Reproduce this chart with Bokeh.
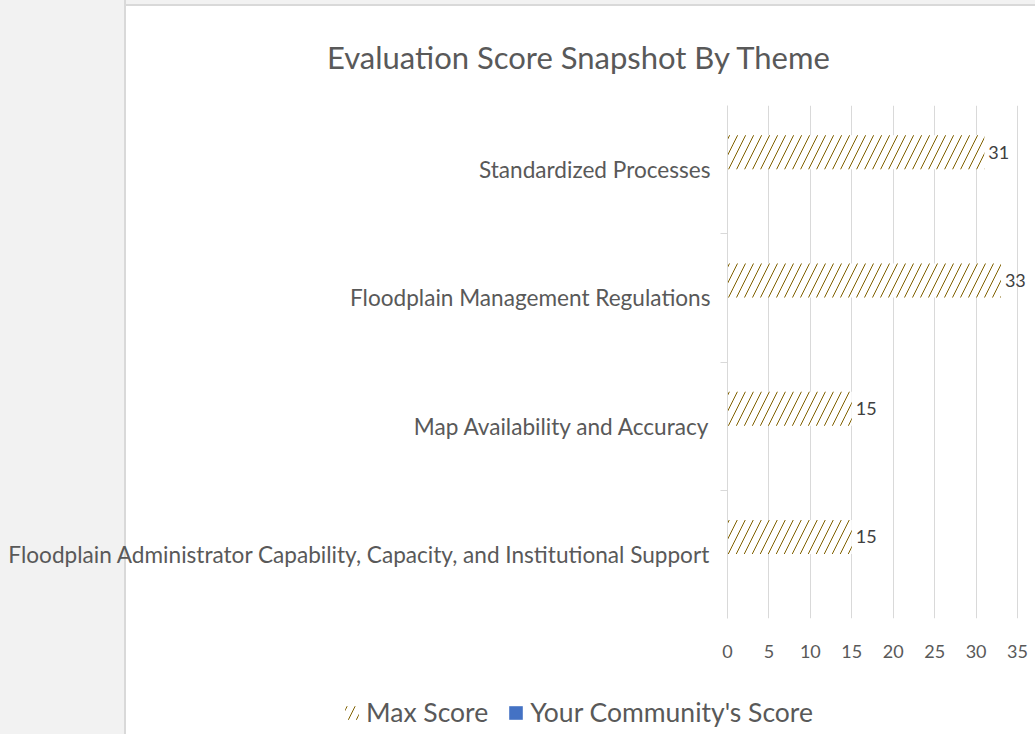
from bokeh.plotting import figure
from bokeh.layouts import column
from bokeh.models import (FactorRange, Range1d, CategoricalAxis, FixedTicker, ColumnDataSource,
                          LabelSet, Legend, LegendItem, CategoricalScale)
from bokeh.transform import dodge
from bokeh.core.properties import value
from bokeh.embed import file_html
from bokeh.resources import INLINE

# ---- data ----
categories = [
    "Standardized Processes",
    "Floodplain Management Regulations",
    "Map Availability and Accuracy",
    "Floodplain Administrator Capability, Capacity, and Institutional Support",
]
max_score = [31, 33, 15, 15]
community_score = [0, 0, 0, 0]
x_ticks = [0, 5, 10, 15, 20, 25, 30, 35]
series_names = ["Max Score", "Your Community's Score"]
title_text = "Evaluation Score Snapshot By Theme"

FONT = "Lato"
GRAY_TEXT = "#595959"
HATCH_COLOR = "#7f6000"
BLUE = "#4472c4"

W, H = 1035, 734
LEG_H = 44
H_MAIN = H - LEG_H
FRAME_L, FRAME_T, FRAME_B = 727, 105, 618
AXIS_R = 1017                       # pixel position of the last tick (35)
LEG_X = 343                         # left edge of the legend
x_max = x_ticks[-1]
x_end = x_max + (W - AXIS_R) * x_max / (AXIS_R - FRAME_L)   # room for value labels

LEFT_STRIP = ("linear-gradient(to right, #f2f2f2 0px, #f2f2f2 124px, #d9d9d9 124px, "
              "#d9d9d9 126px, transparent 126px)")

y_factors = list(reversed(categories))
src = ColumnDataSource(dict(
    cat=categories,
    maxs=max_score,
    comm=community_score,
    lbl=[str(v) for v in max_score],
))

p = figure(width=W, height=H_MAIN,
           y_range=FactorRange(factors=y_factors, range_padding=0),
           x_range=Range1d(0, x_end),
           output_backend="svg", toolbar_location=None,
           min_border_left=FRAME_L, min_border_right=0,
           min_border_top=FRAME_T, min_border_bottom=H_MAIN - FRAME_B)
p.outline_line_color = None
p.background_fill_color = "white"
p.border_fill_alpha = 0
p.styles = {
    "background": (LEFT_STRIP + ", linear-gradient(to bottom, #f2f2f2 0px, #f2f2f2 4px, "
                   "#d9d9d9 4px, #d9d9d9 6px, #ffffff 6px)"),
}

# bars
off = 0.136
bh = 0.265
bar_max = dict(fill_color="white", line_color=None, hatch_pattern="/",
               hatch_color=HATCH_COLOR, hatch_weight=1.0, hatch_scale=16)
bar_comm = dict(fill_color=BLUE, line_color=None)
p.hbar(y=dodge("cat", off, range=p.y_range), right="maxs", left=0, height=bh,
       source=src, **bar_max)
p.hbar(y=dodge("cat", -off, range=p.y_range), right="comm", left=0, height=bh,
       source=src, **bar_comm)

labels = LabelSet(x="maxs", y=dodge("cat", off, range=p.y_range), text="lbl", source=src,
                  x_offset=4, text_baseline="middle", text_align="left",
                  text_font=value(FONT), text_font_size="18px", text_color="#404040")
p.add_layout(labels)

# x axis
p.xaxis.ticker = FixedTicker(ticks=x_ticks)
p.xaxis.axis_line_color = None
p.xaxis.major_tick_line_color = None
p.xaxis.minor_tick_line_color = None
p.xaxis.major_label_standoff = 20
p.xaxis.major_label_text_font = FONT
p.xaxis.major_label_text_font_size = "18px"
p.xaxis.major_label_text_color = GRAY_TEXT
p.xgrid.grid_line_color = "#d9d9d9"
p.ygrid.grid_line_color = None

# y axes: categorical labels + boundary ticks
cat_axis = p.yaxis[0]
cat_axis.axis_line_color = None
cat_axis.major_tick_line_color = None
cat_axis.minor_tick_line_color = None
cat_axis.major_label_standoff = 4
cat_axis.major_label_text_font = FONT
cat_axis.major_label_text_font_size = "22.6px"
cat_axis.major_label_text_color = GRAY_TEXT

bound_factors = ["b%d" % i for i in range(len(categories) + 1)]
p.extra_y_ranges = {"bounds": FactorRange(factors=bound_factors, range_padding=-0.5,
                                          range_padding_units="absolute")}
p.extra_y_scales = {"bounds": CategoricalScale()}
tick_axis = CategoricalAxis(y_range_name="bounds",
                            axis_line_color="#d9d9d9", major_tick_line_color="#d9d9d9",
                            major_tick_out=7, major_tick_in=0, minor_tick_line_color=None,
                            major_label_text_font_size="0px", major_label_standoff=0)
p.left = [tick_axis, cat_axis]

# title
p.title.text = title_text
p.title.align = "right"
p.title.offset = 204
p.title.vertical_align = "bottom"
p.title.standoff = 60
p.title.text_font = FONT
p.title.text_font_size = "31px"
p.title.text_font_style = "normal"
p.title.text_color = GRAY_TEXT

# legend strip (separate canvas so the legend is not clipped by the plot frame)
leg = figure(width=W, height=LEG_H, x_range=Range1d(0, 1), y_range=Range1d(0, 1),
             output_backend="svg", toolbar_location=None,
             x_axis_location=None, y_axis_location=None,
             min_border_left=LEG_X, min_border_right=0,
             min_border_top=0, min_border_bottom=0)
for fig in (p, leg):
    try:
        fig.frame_align = False
    except Exception:
        pass
leg.grid.visible = False
leg.outline_line_color = None
leg.background_fill_alpha = 0
leg.border_fill_alpha = 0
leg.styles = {"background": LEFT_STRIP + ", #ffffff"}
# legend-only renderers: one row each, placed outside the strip's visible range
lr_max = leg.hbar(y=[-1], right=[1], left=[0], height=0.5, **bar_max)
lr_comm = leg.hbar(y=[-1], right=[1], left=[0], height=0.5, **bar_comm)
legend = Legend(items=[LegendItem(label=series_names[0], renderers=[lr_max]),
                       LegendItem(label=series_names[1], renderers=[lr_comm])],
                orientation="horizontal", location="center_left",
                label_text_font=FONT, label_text_font_size="26.5px", label_text_color=GRAY_TEXT,
                label_height=28, glyph_width=17, glyph_height=17, spacing=19,
                padding=0, margin=0, label_standoff=6,
                border_line_color=None, background_fill_alpha=0)
leg.add_layout(legend)

layout = column(p, leg, spacing=0)
open("out.html", "w").write(file_html(layout, INLINE))
